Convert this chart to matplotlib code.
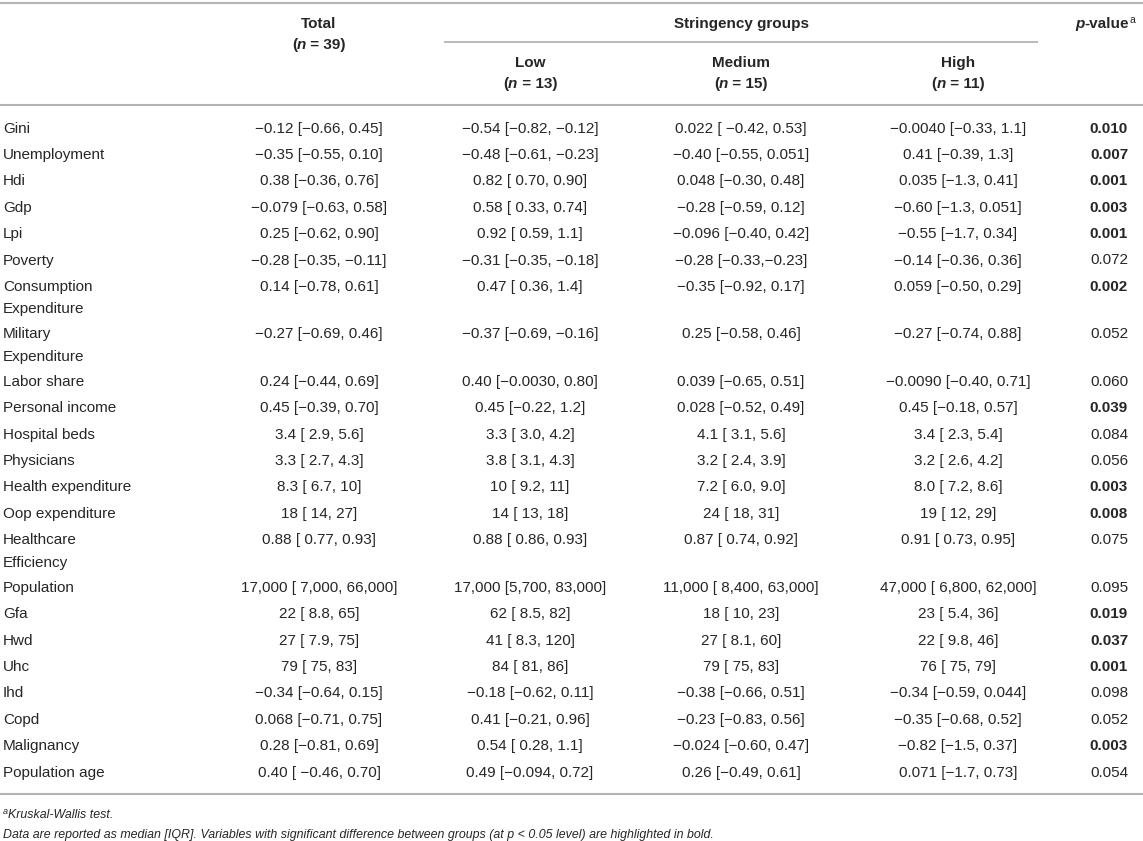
import matplotlib
matplotlib.use("Agg")
import matplotlib.pyplot as plt

# ---------------- data ----------------
row_labels = [
    "Gini", "Unemployment", "Hdi", "Gdp", "Lpi", "Poverty",
    "Consumption\nExpenditure", "Military\nExpenditure", "Labor share",
    "Personal income", "Hospital beds", "Physicians", "Health expenditure",
    "Oop expenditure", "Healthcare\nEfficiency", "Population", "Gfa", "Hwd",
    "Uhc", "Ihd", "Copd", "Malignancy", "Population age",
]
total_vals = [
    "\u22120.12 [\u22120.66, 0.45]", "\u22120.35 [\u22120.55, 0.10]", "0.38 [\u22120.36, 0.76]",
    "\u22120.079 [\u22120.63, 0.58]", "0.25 [\u22120.62, 0.90]", "\u22120.28 [\u22120.35, \u22120.11]",
    "0.14 [\u22120.78, 0.61]", "\u22120.27 [\u22120.69, 0.46]", "0.24 [\u22120.44, 0.69]",
    "0.45 [\u22120.39, 0.70]", "3.4 [ 2.9, 5.6]", "3.3 [ 2.7, 4.3]", "8.3 [ 6.7, 10]",
    "18 [ 14, 27]", "0.88 [ 0.77, 0.93]", "17,000 [ 7,000, 66,000]", "22 [ 8.8, 65]",
    "27 [ 7.9, 75]", "79 [ 75, 83]", "\u22120.34 [\u22120.64, 0.15]", "0.068 [\u22120.71, 0.75]",
    "0.28 [\u22120.81, 0.69]", "0.40 [ \u22120.46, 0.70]",
]
low_vals = [
    "\u22120.54 [\u22120.82, \u22120.12]", "\u22120.48 [\u22120.61, \u22120.23]", "0.82 [ 0.70, 0.90]",
    "0.58 [ 0.33, 0.74]", "0.92 [ 0.59, 1.1]", "\u22120.31 [\u22120.35, \u22120.18]",
    "0.47 [ 0.36, 1.4]", "\u22120.37 [\u22120.69, \u22120.16]", "0.40 [\u22120.0030, 0.80]",
    "0.45 [\u22120.22, 1.2]", "3.3 [ 3.0, 4.2]", "3.8 [ 3.1, 4.3]", "10 [ 9.2, 11]",
    "14 [ 13, 18]", "0.88 [ 0.86, 0.93]", "17,000 [5,700, 83,000]", "62 [ 8.5, 82]",
    "41 [ 8.3, 120]", "84 [ 81, 86]", "\u22120.18 [\u22120.62, 0.11]", "0.41 [\u22120.21, 0.96]",
    "0.54 [ 0.28, 1.1]", "0.49 [\u22120.094, 0.72]",
]
medium_vals = [
    "0.022 [ \u22120.42, 0.53]", "\u22120.40 [\u22120.55, 0.051]", "0.048 [\u22120.30, 0.48]",
    "\u22120.28 [\u22120.59, 0.12]", "\u22120.096 [\u22120.40, 0.42]", "\u22120.28 [\u22120.33,\u22120.23]",
    "\u22120.35 [\u22120.92, 0.17]", "0.25 [\u22120.58, 0.46]", "0.039 [\u22120.65, 0.51]",
    "0.028 [\u22120.52, 0.49]", "4.1 [ 3.1, 5.6]", "3.2 [ 2.4, 3.9]", "7.2 [ 6.0, 9.0]",
    "24 [ 18, 31]", "0.87 [ 0.74, 0.92]", "11,000 [ 8,400, 63,000]", "18 [ 10, 23]",
    "27 [ 8.1, 60]", "79 [ 75, 83]", "\u22120.38 [\u22120.66, 0.51]", "\u22120.23 [\u22120.83, 0.56]",
    "\u22120.024 [\u22120.60, 0.47]", "0.26 [\u22120.49, 0.61]",
]
high_vals = [
    "\u22120.0040 [\u22120.33, 1.1]", "0.41 [\u22120.39, 1.3]", "0.035 [\u22121.3, 0.41]",
    "\u22120.60 [\u22121.3, 0.051]", "\u22120.55 [\u22121.7, 0.34]", "\u22120.14 [\u22120.36, 0.36]",
    "0.059 [\u22120.50, 0.29]", "\u22120.27 [\u22120.74, 0.88]", "\u22120.0090 [\u22120.40, 0.71]",
    "0.45 [\u22120.18, 0.57]", "3.4 [ 2.3, 5.4]", "3.2 [ 2.6, 4.2]", "8.0 [ 7.2, 8.6]",
    "19 [ 12, 29]", "0.91 [ 0.73, 0.95]", "47,000 [ 6,800, 62,000]", "23 [ 5.4, 36]",
    "22 [ 9.8, 46]", "76 [ 75, 79]", "\u22120.34 [\u22120.59, 0.044]", "\u22120.35 [\u22120.68, 0.52]",
    "\u22120.82 [\u22121.5, 0.37]", "0.071 [\u22121.7, 0.73]",
]
p_values = [
    "0.010", "0.007", "0.001", "0.003", "0.001", "0.072", "0.002", "0.052", "0.060",
    "0.039", "0.084", "0.056", "0.003", "0.008", "0.075", "0.095", "0.019", "0.037",
    "0.001", "0.098", "0.052", "0.003", "0.054",
]
group_names = ["Low", "Medium", "High"]
group_n = ["13", "15", "11"]
total_n = "39"
alpha = 0.05

# ---------------- layout ----------------
W, H = 1143, 841
plt.rcParams["font.family"] = ["Liberation Sans", "DejaVu Sans"]
TXT = "#262626"
RULE = "#b4b4b4"
FS = 11.0
FS_NOTE = 8.9

fig = plt.figure(figsize=(W / 100, H / 100), dpi=100)
ax = fig.add_axes([0, 0, 1, 1])
ax.set_xlim(0, W)
ax.set_ylim(H, 0)
ax.axis("off")
renderer = fig.canvas.get_renderer()

x_label = 3
x_total = 319
x_groups = [530, 741, 958]
x_p = 1109

def rich(x, y, segs, ha="center"):
    """segs: list of (text, weight, style, size, dy)"""
    objs = []
    for s, wgt, sty, sz, dy in segs:
        t = ax.text(0, y - dy, s, fontsize=sz, fontweight=wgt, fontstyle=sty,
                    color=TXT, ha="left", va="baseline")
        objs.append(t)
    widths = [o.get_window_extent(renderer).width for o in objs]
    total = sum(widths)
    start = x - total / 2 if ha == "center" else (x if ha == "left" else x - total)
    cur = start
    for o, w in zip(objs, widths):
        o.set_x(cur)
        cur += w

def rule(y, x0=0, x1=W, lw=1.5):
    ax.plot([x0, x1], [y, y], color=RULE, lw=lw, solid_capstyle="butt")

# rules
rule(3)
rule(42, 444, 1038, lw=1.3)
rule(105)
rule(794)

# header
B = "bold"
rich(x_total, 28, [("Total", B, "normal", FS, 0)])
rich(x_total, 49, [("(", B, "normal", FS, 0), ("n", B, "italic", FS, 0),
                   (" = " + total_n + ")", B, "normal", FS, 0)])
rich((444 + 1038) / 2, 28, [("Stringency groups", B, "normal", FS, 0)])
for xg, nm, nn in zip(x_groups, group_names, group_n):
    rich(xg, 67, [(nm, B, "normal", FS, 0)])
    rich(xg, 88, [("(", B, "normal", FS, 0), ("n", B, "italic", FS, 0),
                  (" = " + nn + ")", B, "normal", FS, 0)])
rich(1105, 28, [("p", B, "italic", FS, 0), ("-value", B, "normal", FS, 0),
                ("a", "normal", "normal", 7.5, 5)])

# body rows
y = 127.0
base_off = 5.5
for i, lab in enumerate(row_labels):
    lines = lab.split("\n")
    for k, ln in enumerate(lines):
        ax.text(x_label, y + base_off + 22.5 * k, ln, fontsize=FS, color=TXT,
                ha="left", va="baseline")
    yy = y + base_off
    ax.text(x_total, yy, total_vals[i], fontsize=FS, color=TXT, ha="center", va="baseline")
    for xg, vals in zip(x_groups, [low_vals, medium_vals, high_vals]):
        ax.text(xg, yy, vals[i], fontsize=FS, color=TXT, ha="center", va="baseline")
    sig = float(p_values[i]) < alpha
    ax.text(x_p, yy, p_values[i], fontsize=FS, color=TXT, ha="center", va="baseline",
            fontweight="bold" if sig else "normal")
    y += 47.5 if len(lines) > 1 else 26.4

# footnotes
rich(3, 818, [("a", "normal", "italic", 6.5, 4.5), ("Kruskal-Wallis test.", "normal", "italic", FS_NOTE, 0)],
     ha="left")
ax.text(3, 838, "Data are reported as median [IQR]. Variables with significant difference between "
        "groups (at p < 0.05 level) are highlighted in bold.", fontsize=FS_NOTE, fontstyle="italic",
        color=TXT, ha="left", va="baseline")

fig.savefig("out.png", dpi=100, facecolor="white")
